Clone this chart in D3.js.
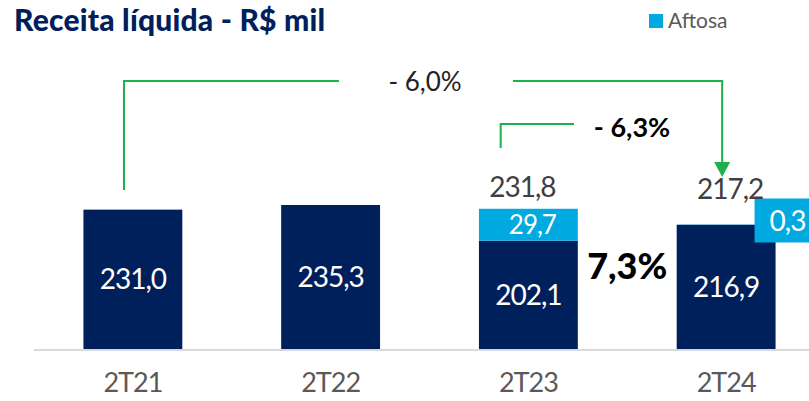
<!DOCTYPE html>
<html>
<head>
<meta charset="utf-8">
<script src="https://cdn.jsdelivr.net/npm/d3@7"></script>
<style>
  body { margin: 0; background: #fff; }
  text { font-family: Lato, "Open Sans", sans-serif; }
</style>
</head>
<body>
<div id="plot"></div>
<script>
// chart data
const categories = ["2T21", "2T22", "2T23", "2T24"];
const baseValues = [231.0, 235.3, 202.1, 216.9];
const aftosaValues = [0, 0, 29.7, 0.3];
const totalValues = [null, null, 231.8, 217.2];
const changeLabels = ["- 6,0%", "- 6,3%", "7,3%"];

const w = 809;
const h = 401;
const navy = "#00205b";
const lightBlue = "#00a9e0";
const green = "#1db14b";

const fmt = v => v.toFixed(1).replace(".", ",");

const svg = d3.select("div#plot")
  .append("svg")
    .attr("width", w)
    .attr("height", h);

const xScale = d3.scaleBand()
  .domain(categories)
  .range([34, 825])
  .paddingInner(0.5)
  .paddingOuter(0.25);

const yScale = d3.scaleLinear()
  .domain([101.5, 235.3])
  .range([349, 205]);

const data = categories.map((c, i) => ({
  cat: c, base: baseValues[i], aftosa: aftosaValues[i], total: totalValues[i]
}));

// title
svg.append("text")
  .attr("x", 14)
  .attr("y", 31)
  .attr("fill", navy)
  .attr("font-size", 30)
  .attr("font-weight", 900)
  .attr("letter-spacing", 0.2)
  .text("Receita líquida - R$ mil");

// legend
svg.append("rect")
  .attr("x", 649).attr("y", 14)
  .attr("width", 14).attr("height", 14)
  .attr("fill", lightBlue);
svg.append("text")
  .attr("x", 668).attr("y", 28)
  .attr("fill", "#595959")
  .attr("font-size", 21)
  .text("Aftosa");

// baseline
svg.append("line")
  .attr("x1", 34).attr("x2", w)
  .attr("y1", yScale.range()[0] + 1).attr("y2", yScale.range()[0] + 1)
  .attr("stroke", "#d9d9d9")
  .attr("stroke-width", 2);

// base bars
svg.selectAll("rect.base")
  .data(data)
  .enter()
  .append("rect")
    .attr("class", "base")
    .attr("x", d => xScale(d.cat))
    .attr("y", d => yScale(d.base))
    .attr("width", xScale.bandwidth())
    .attr("height", d => yScale.range()[0] - yScale(d.base))
    .attr("fill", navy);

// aftosa segments
svg.selectAll("rect.aftosa")
  .data(data.filter(d => d.aftosa > 0))
  .enter()
  .append("rect")
    .attr("class", "aftosa")
    .attr("x", d => xScale(d.cat))
    .attr("y", d => yScale(d.base + d.aftosa))
    .attr("width", xScale.bandwidth())
    .attr("height", d => yScale(d.base) - yScale(d.base + d.aftosa))
    .attr("fill", lightBlue);

// base labels
svg.selectAll("text.baselab")
  .data(data)
  .enter()
  .append("text")
    .attr("class", "baselab")
    .attr("x", d => xScale(d.cat) + xScale.bandwidth() / 2)
    .attr("y", d => (yScale(d.base) + yScale.range()[0]) / 2)
    .attr("dy", "0.36em")
    .attr("text-anchor", "middle")
    .attr("fill", "#fff")
    .attr("font-size", 28)
    .attr("letter-spacing", -1)
    .text(d => fmt(d.base));

// aftosa label inside 2T23 segment (big enough)
const big = data.filter(d => d.aftosa > 5);
svg.selectAll("text.aftlab")
  .data(big)
  .enter()
  .append("text")
    .attr("class", "aftlab")
    .attr("x", d => xScale(d.cat) + xScale.bandwidth() / 2 + 4)
    .attr("y", d => (yScale(d.base) + yScale(d.base + d.aftosa)) / 2)
    .attr("dy", "0.36em")
    .attr("text-anchor", "middle")
    .attr("fill", "#fff")
    .attr("font-size", 26)
    .attr("letter-spacing", -1)
    .text(d => fmt(d.aftosa));

// callout box for small aftosa value
const small = data.filter(d => d.aftosa > 0 && d.aftosa <= 5);
const callout = svg.selectAll("g.callout")
  .data(small)
  .enter()
  .append("g")
    .attr("class", "callout")
    .attr("transform", d => `translate(${xScale(d.cat) + xScale.bandwidth() - 21}, ${yScale(d.base + d.aftosa) - 26})`);
callout.append("rect")
  .attr("width", 70).attr("height", 44)
  .attr("fill", lightBlue);
callout.append("text")
  .attr("x", 15).attr("y", 22)
  .attr("dy", "0.36em")
  .attr("fill", "#fff")
  .attr("font-size", 28)
  .attr("letter-spacing", -1)
  .text(d => fmt(d.aftosa));

// totals
svg.selectAll("text.total")
  .data(data.filter(d => d.total !== null))
  .enter()
  .append("text")
    .attr("class", "total")
    .attr("x", d => xScale(d.cat) + xScale.bandwidth() / 2 - 6 + (d.cat === "2T24" ? 10 : 0))
    .attr("y", (d, i) => 197 + i * 2)
    .attr("text-anchor", "middle")
    .attr("fill", "#404040")
    .attr("font-size", 28)
    .attr("letter-spacing", -1)
    .text(d => fmt(d.total));

// category labels
svg.selectAll("text.cat")
  .data(data)
  .enter()
  .append("text")
    .attr("class", "cat")
    .attr("x", d => xScale(d.cat) + xScale.bandwidth() / 2)
    .attr("y", 392)
    .attr("text-anchor", "middle")
    .attr("fill", "#595959")
    .attr("font-size", 27)
    .attr("letter-spacing", -1)
    .text(d => d.cat);

// growth 7,3%
svg.append("text")
  .attr("x", (xScale("2T23") + xScale.bandwidth() + xScale("2T24")) / 2)
  .attr("y", 266)
  .attr("dy", "0.36em")
  .attr("text-anchor", "middle")
  .attr("fill", "#000")
  .attr("font-size", 36)
  .attr("font-weight", 900)
  .text(changeLabels[2]);

// comparison brackets
const c21 = xScale("2T21") + xScale.bandwidth() * 0.41;
const c23 = xScale("2T23") + xScale.bandwidth() * 0.22;
const c24 = xScale("2T24") + xScale.bandwidth() * 0.46;

const line = d3.line();
svg.append("path")
  .attr("d", line([[c21, 190], [c21, 81], [339, 81]]))
  .attr("fill", "none").attr("stroke", green).attr("stroke-width", 2);
svg.append("path")
  .attr("d", line([[513, 81], [c24, 81], [c24, 162]]))
  .attr("fill", "none").attr("stroke", green).attr("stroke-width", 2);
svg.append("path")
  .attr("d", `M${c24 - 8},162 L${c24 + 8},162 L${c24},177 Z`)
  .attr("fill", green);
svg.append("text")
  .attr("x", 425).attr("y", 82)
  .attr("dy", "0.36em")
  .attr("text-anchor", "middle")
  .attr("fill", "#222")
  .attr("font-size", 26)
  .text(changeLabels[0]);

svg.append("path")
  .attr("d", line([[c23, 148], [c23, 124], [574, 124]]))
  .attr("fill", "none").attr("stroke", green).attr("stroke-width", 2);
svg.append("text")
  .attr("x", 632).attr("y", 127)
  .attr("dy", "0.36em")
  .attr("text-anchor", "middle")
  .attr("fill", "#000")
  .attr("font-size", 27)
  .attr("font-weight", 700)
  .text(changeLabels[1]);
</script>
</body>
</html>
